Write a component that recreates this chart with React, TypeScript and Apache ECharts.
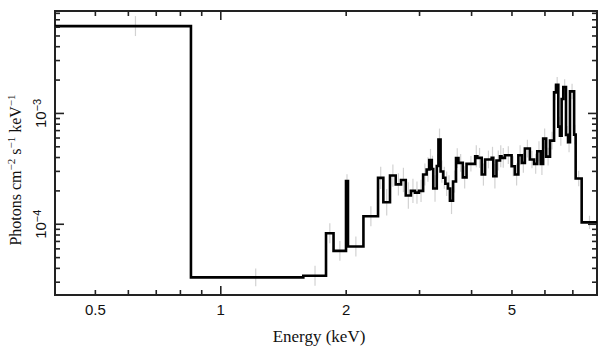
import React, { useEffect, useRef } from "react";
import * as echarts from "echarts";

// Bin edges (keV) of the unfolded spectrum
const binEdges = [
  0.40, 0.848, 1.578, 1.789, 1.865, 1.998, 2.02, 2.20, 2.385, 2.456,
  2.548, 2.63, 2.708, 2.78, 2.86, 2.925, 2.99, 3.06, 3.12, 3.165,
  3.21, 3.236, 3.30, 3.33, 3.37, 3.42, 3.46, 3.51, 3.55, 3.61,
  3.67, 3.72, 3.81, 3.89, 4.08, 4.13, 4.23, 4.31, 4.47, 4.51,
  4.59, 4.68, 4.72, 4.81, 4.99, 5.08, 5.18, 5.28, 5.37, 5.52,
  5.65, 5.75, 5.86, 5.94, 6.04, 6.17, 6.31, 6.38, 6.46, 6.52,
  6.58, 6.64, 6.74, 6.82, 6.89, 7.05, 7.11, 7.35, 8.0,
];

// Flux per bin (photons cm^-2 s^-1 keV^-1)
const binFlux = [
  6.14e-3, 3.32e-5, 3.43e-5, 8.3e-5, 5.75e-5, 2.46e-4, 6.3e-5, 1.18e-4, 2.62e-4, 1.58e-4,
  2.75e-4, 2.29e-4, 2.51e-4, 1.82e-4, 2.0e-4, 1.93e-4, 2.0e-4, 2.81e-4, 3.12e-4, 3.8e-4,
  3.15e-4, 2.1e-4, 3.36e-4, 5.8e-4, 2.99e-4, 2.63e-4, 2.32e-4, 2.1e-4, 1.63e-4, 2.43e-4,
  3.95e-4, 3.58e-4, 2.65e-4, 3.51e-4, 4.11e-4, 3.97e-4, 2.81e-4, 3.84e-4, 3.97e-4, 2.71e-4,
  3.76e-4, 4.11e-4, 3.97e-4, 4.2e-4, 3.34e-4, 2.81e-4, 4.2e-4, 3.58e-4, 4.82e-4, 3.84e-4,
  3.51e-4, 4.56e-4, 3.51e-4, 5.93e-4, 4.08e-4, 5.69e-4, 1.55e-3, 1.81e-3, 7.6e-4, 6.3e-4,
  1.35e-3, 1.73e-3, 6.4e-4, 5.5e-4, 1.58e-3, 6.44e-4, 2.59e-4, 1.04e-4,
];

// Half-length of each error bar, in decades
const binErrDex = [
  0.09, 0.08, 0.09, 0.09, 0.09, 0.06, 0.09, 0.09, 0.10, 0.12,
  0.10, 0.10, 0.11, 0.12, 0.11, 0.10, 0.10, 0.10, 0.11, 0.10,
  0.12, 0.12, 0.11, 0.10, 0.10, 0.10, 0.11, 0.12, 0.12, 0.10,
  0.09, 0.08, 0.10, 0.07, 0.10, 0.09, 0.10, 0.08, 0.10, 0.11,
  0.09, 0.10, 0.09, 0.08, 0.09, 0.10, 0.09, 0.09, 0.08, 0.08,
  0.09, 0.09, 0.10, 0.09, 0.08, 0.08, 0.07, 0.07, 0.09, 0.09,
  0.08, 0.07, 0.08, 0.09, 0.07, 0.09, 0.07, 0.06,
];

const xMin = 0.4;
const xMax = 8.0;
const yMin = 2.3e-5;
const yMax = 8.4e-3;

const xLabelValues = [0.5, 1, 2, 5];
const xMajorTicks = [1];
const xMinorTicks = [0.5, 0.6, 0.7, 0.8, 0.9, 2, 3, 4, 5, 6, 7];
const yLabelValues = [1e-4, 1e-3];
const yMajorTicks = [1e-4, 1e-3];
const yMinorTicks = [
  3e-5, 4e-5, 5e-5, 6e-5, 7e-5, 8e-5, 9e-5,
  2e-4, 3e-4, 4e-4, 5e-4, 6e-4, 7e-4, 8e-4, 9e-4,
  2e-3, 3e-3, 4e-3, 5e-3, 6e-3, 7e-3, 8e-3,
];

export default function App() {
  const ref = useRef<HTMLDivElement>(null);

  useEffect(() => {
    if (!ref.current) return;
    const chart = echarts.init(ref.current, undefined, { renderer: "svg" });

    const stepData: number[][] = [];
    binFlux.forEach((v, i) => {
      stepData.push([binEdges[i], v]);
      stepData.push([binEdges[i + 1], v]);
    });
    const errData = binFlux.map((v, i) => {
      const c = (binEdges[i] + binEdges[i + 1]) / 2;
      const f = Math.pow(10, binErrDex[i]);
      return [c, v / f, v * f];
    });

    const axisColor = "#222";
    const sansFamily = "Liberation Sans, Arial, Helvetica, sans-serif";
    const serifFamily = "Liberation Serif, Times New Roman, serif";

    chart.setOption({
      animation: false,
      grid: {
        left: 55,
        right: 12,
        top: 11,
        bottom: 62,
        show: true,
        borderColor: axisColor,
        borderWidth: 2,
        backgroundColor: "transparent",
        containLabel: false,
        outerBoundsMode: "none",
      },
      xAxis: {
        type: "log",
        logBase: 10,
        min: xMin,
        max: xMax,
        position: "bottom",
        splitLine: { show: false },
        axisLine: { show: true, lineStyle: { color: axisColor, width: 2 } },
        axisTick: { show: false },
        axisLabel: {
          show: true,
          customValues: xLabelValues,
          formatter: (v: number) => String(v),
          margin: 7,
          fontFamily: sansFamily,
          fontSize: 15,
          color: "#111",
        },
        name: "Energy (keV)",
        nameLocation: "middle",
        nameGap: 33,
        nameTextStyle: {
          fontFamily: serifFamily,
          fontSize: 17,
          color: "#111",
          padding: [0, 14, 0, 0],
        },
      },
      yAxis: {
        type: "log",
        logBase: 10,
        min: yMin,
        max: yMax,
        position: "left",
        splitLine: { show: false },
        axisLine: { show: true, lineStyle: { color: axisColor, width: 2 } },
        axisTick: { show: false },
        axisLabel: {
          show: true,
          customValues: yLabelValues,
          rotate: 90,
          margin: 7,
          formatter: (v: number) => "{b|10}{s|\u2212" + String(Math.abs(Math.round(Math.log10(v)))) + "}",
          rich: {
            b: { fontFamily: sansFamily, fontSize: 15, color: "#111", verticalAlign: "bottom", lineHeight: 17 },
            s: { fontFamily: sansFamily, fontSize: 11, color: "#111", verticalAlign: "top", lineHeight: 11 },
          },
        },
        name: "{t|Photons cm}{s|\u22122}{t| s}{s|\u22121}{t| keV}{s|\u22121}",
        nameLocation: "middle",
        nameGap: 30,
        nameTextStyle: {
          padding: [0, 34, 0, 0],
          rich: {
            t: { fontFamily: serifFamily, fontSize: 16, color: "#111", verticalAlign: "bottom", lineHeight: 18 },
            s: { fontFamily: serifFamily, fontSize: 11, color: "#111", verticalAlign: "top", lineHeight: 11 },
          },
        },
      },
      series: [
        {
          type: "custom",
          name: "errors",
          data: errData,
          encode: { x: 0, y: [1, 2] },
          z: 1,
          clip: true,
          renderItem: (_params: any, api: any) => {
            const p1 = api.coord([api.value(0), api.value(1)]);
            const p2 = api.coord([api.value(0), api.value(2)]);
            return {
              type: "line",
              shape: { x1: p1[0], y1: p1[1], x2: p2[0], y2: p2[1] },
              style: { stroke: "#d2d2d2", lineWidth: 1.2 },
            };
          },
        },
        {
          type: "line",
          name: "spectrum",
          data: stepData,
          showSymbol: false,
          symbol: "none",
          z: 3,
          lineStyle: { color: "#000", width: 2.6, join: "miter" },
        },
      ],
    });

    // Frame ticks (inside, on all four sides), placed through the chart's own scales
    const MAJOR = 9;
    const MINOR = 5;
    const finder = { xAxisIndex: 0, yAxisIndex: 0 };
    const tickEls: any[] = [];
    const tickStyle = { stroke: axisColor, lineWidth: 1.6 };
    const addX = (vals: number[], len: number) =>
      vals.forEach((v) => {
        const b = chart.convertToPixel(finder, [v, yMin]) as number[];
        const t = chart.convertToPixel(finder, [v, yMax]) as number[];
        tickEls.push({ type: "line", z: 100, silent: true, shape: { x1: b[0], y1: b[1], x2: b[0], y2: b[1] - len }, style: tickStyle });
        tickEls.push({ type: "line", z: 100, silent: true, shape: { x1: t[0], y1: t[1], x2: t[0], y2: t[1] + len }, style: tickStyle });
      });
    const addY = (vals: number[], len: number) =>
      vals.forEach((v) => {
        const l = chart.convertToPixel(finder, [xMin, v]) as number[];
        const r = chart.convertToPixel(finder, [xMax, v]) as number[];
        tickEls.push({ type: "line", z: 100, silent: true, shape: { x1: l[0], y1: l[1], x2: l[0] + len, y2: l[1] }, style: tickStyle });
        tickEls.push({ type: "line", z: 100, silent: true, shape: { x1: r[0], y1: r[1], x2: r[0] - len, y2: r[1] }, style: tickStyle });
      });
    addX(xMajorTicks, MAJOR);
    addX(xMinorTicks, MINOR);
    addY(yMajorTicks, MAJOR);
    addY(yMinorTicks, MINOR);
    chart.setOption({ graphic: { elements: tickEls } });

    return () => chart.dispose();
  }, []);

  return (
    <div
      ref={ref}
      style={{ position: "fixed", left: 0, top: 0, width: 609, height: 357, background: "#fff" }}
    />
  );
}
